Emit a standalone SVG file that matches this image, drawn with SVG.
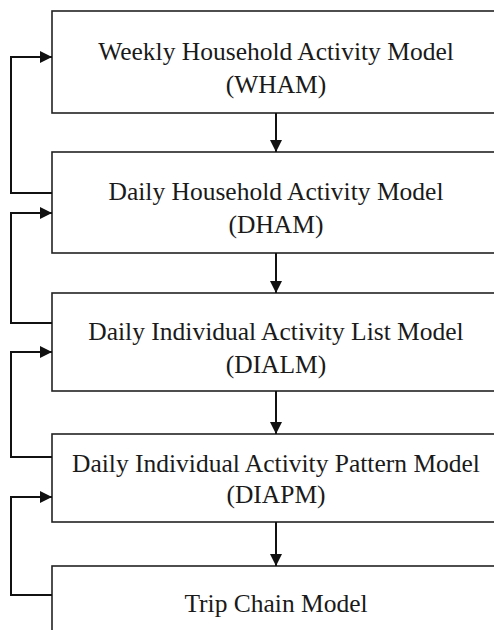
<svg xmlns="http://www.w3.org/2000/svg" width="494" height="630" viewBox="0 0 494 630">
<style>
.box{fill:#fff;stroke:#222;stroke-width:1.6}
.lbl{font-family:"Liberation Serif","Times New Roman",serif;font-size:25.5px;fill:#1a1a1a;text-anchor:middle}
.conn{fill:none;stroke:#111;stroke-width:2}
</style>
<defs>
<marker id="ah" viewBox="0 0 12 12" refX="12" refY="6" markerWidth="12" markerHeight="12" markerUnits="userSpaceOnUse" orient="auto">
<path d="M0,0 L12,6 L0,12 Z" fill="#111"/>
</marker>
</defs>
<g id="n1"><rect class="box" x="52" y="11" width="470" height="102"/><text class="lbl" x="276" y="60">Weekly Household Activity Model</text><text class="lbl" x="276" y="93">(WHAM)</text></g>
<g id="n2"><rect class="box" x="52" y="152" width="470" height="101"/><text class="lbl" x="276" y="200">Daily Household Activity Model</text><text class="lbl" x="276" y="233">(DHAM)</text></g>
<g id="n3"><rect class="box" x="52" y="293" width="470" height="98"/><text class="lbl" x="276" y="340">Daily Individual Activity List Model</text><text class="lbl" x="276" y="373">(DIALM)</text></g>
<g id="n4"><rect class="box" x="52" y="434" width="470" height="88"/><text class="lbl" x="276" y="472">Daily Individual Activity Pattern Model</text><text class="lbl" x="276" y="503">(DIAPM)</text></g>
<g id="n5"><rect class="box" x="52" y="566" width="470" height="80"/><text class="lbl" x="276" y="612">Trip Chain Model</text></g>
<g id="connectors">
<path class="conn" d="M276,113 V152" marker-end="url(#ah)"/>
<path class="conn" d="M276,253 V293" marker-end="url(#ah)"/>
<path class="conn" d="M276,391 V434" marker-end="url(#ah)"/>
<path class="conn" d="M276,522 V566" marker-end="url(#ah)"/>
<path class="conn" d="M52,193 H11 V57 H52" marker-end="url(#ah)"/>
<path class="conn" d="M52,323 H11 V213 H52" marker-end="url(#ah)"/>
<path class="conn" d="M52,457 H11 V352 H52" marker-end="url(#ah)"/>
<path class="conn" d="M52,595 H11 V497 H52" marker-end="url(#ah)"/>
</g>
</svg>
